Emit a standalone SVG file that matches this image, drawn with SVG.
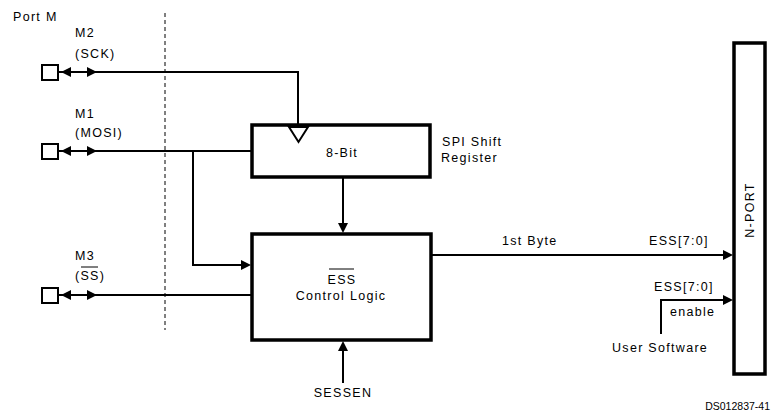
<svg xmlns="http://www.w3.org/2000/svg" width="774" height="416" viewBox="0 0 774 416">
<style>
text{font-family:"Liberation Sans",Arial,sans-serif;font-size:12.5px;letter-spacing:1.3px;fill:#000}
.box{fill:#fff;stroke:#000;stroke-width:3.5}
.pin{fill:#fff;stroke:#000;stroke-width:2}
.w{fill:none;stroke:#000;stroke-width:2}
.ah{fill:#000;stroke:none}
.ds{font-size:10.5px;letter-spacing:0}
</style>
<rect width="774" height="416" fill="#fff"/>
<text x="13" y="21">Port M</text>
<line x1="165" y1="13" x2="165" y2="330" stroke="#000" stroke-width="1" stroke-dasharray="4,3"/>

<g id="connectors">
  <polyline class="w" points="58,72 298,72 298,124"/>
  <line class="w" x1="58" y1="151" x2="251" y2="151"/>
  <polyline class="w" points="193,151 193,265 242,265"/>
  <line class="w" x1="58" y1="295" x2="251" y2="295"/>
  <line class="w" x1="343" y1="177" x2="343" y2="224"/>
  <line class="w" x1="343" y1="383" x2="343" y2="350"/>
  <line class="w" x1="432" y1="255" x2="724" y2="255"/>
  <polyline class="w" points="661,334 661,300 724,300"/>
  <path class="ah" d="M61,72 L71,67 L71,77 Z M97,72 L87,67 L87,77 Z"/>
  <path class="ah" d="M61,151 L71,146 L71,156 Z M97,151 L87,146 L87,156 Z"/>
  <path class="ah" d="M61,295 L71,290 L71,300 Z M97,295 L87,290 L87,300 Z"/>
  <path class="ah" d="M251,265 L241,260 L241,270 Z"/>
  <path class="ah" d="M343,233 L338,223 L348,223 Z"/>
  <path class="ah" d="M343,341 L338,351 L348,351 Z"/>
  <path class="ah" d="M733,255 L723,250 L723,260 Z"/>
  <path class="ah" d="M733,300 L723,295 L723,305 Z"/>
</g>

<g id="pin-m2">
  <rect class="pin" x="42" y="65" width="16" height="15"/>
  <text x="75" y="37">M2</text>
  <text x="75" y="58">(SCK)</text>
</g>
<g id="pin-m1">
  <rect class="pin" x="42" y="144" width="16" height="15"/>
  <text x="75" y="118">M1</text>
  <text x="75" y="137">(MOSI)</text>
</g>
<g id="pin-m3">
  <rect class="pin" x="42" y="288" width="16" height="15"/>
  <text x="75" y="260">M3</text>
  <text x="75" y="280">(SS)</text>
  <line x1="81" y1="267" x2="98" y2="267" stroke="#000" stroke-width="1"/>
</g>

<g id="shift-register">
  <rect class="box" x="252" y="125" width="178" height="52"/>
  <path d="M289,127 L308,127 L298.5,142 Z" fill="#fff" stroke="#000" stroke-width="2"/>
  <text x="342" y="157" text-anchor="middle">8-Bit</text>
  <text x="442" y="146">SPI Shift</text>
  <text x="441" y="162">Register</text>
</g>

<g id="control-logic">
  <rect class="box" x="252" y="234" width="179" height="106"/>
  <text x="342" y="284" text-anchor="middle">ESS</text>
  <line x1="329" y1="269" x2="354" y2="269" stroke="#000" stroke-width="1"/>
  <text x="341" y="300" text-anchor="middle">Control Logic</text>
</g>

<g id="n-port">
  <rect class="box" x="734" y="43" width="31" height="331"/>
  <text x="0" y="0" text-anchor="middle" transform="translate(754,210) rotate(-90)">N-PORT</text>
</g>

<g id="labels">
  <text x="502" y="245">1st Byte</text>
  <text x="649" y="245">ESS[7:0]</text>
  <text x="654" y="291">ESS[7:0]</text>
  <text x="670" y="316">enable</text>
  <text x="612" y="352">User Software</text>
  <text x="343" y="397" text-anchor="middle">SESSEN</text>
</g>

<text class="ds" x="770" y="410" text-anchor="end">DS012837-41</text>
</svg>
